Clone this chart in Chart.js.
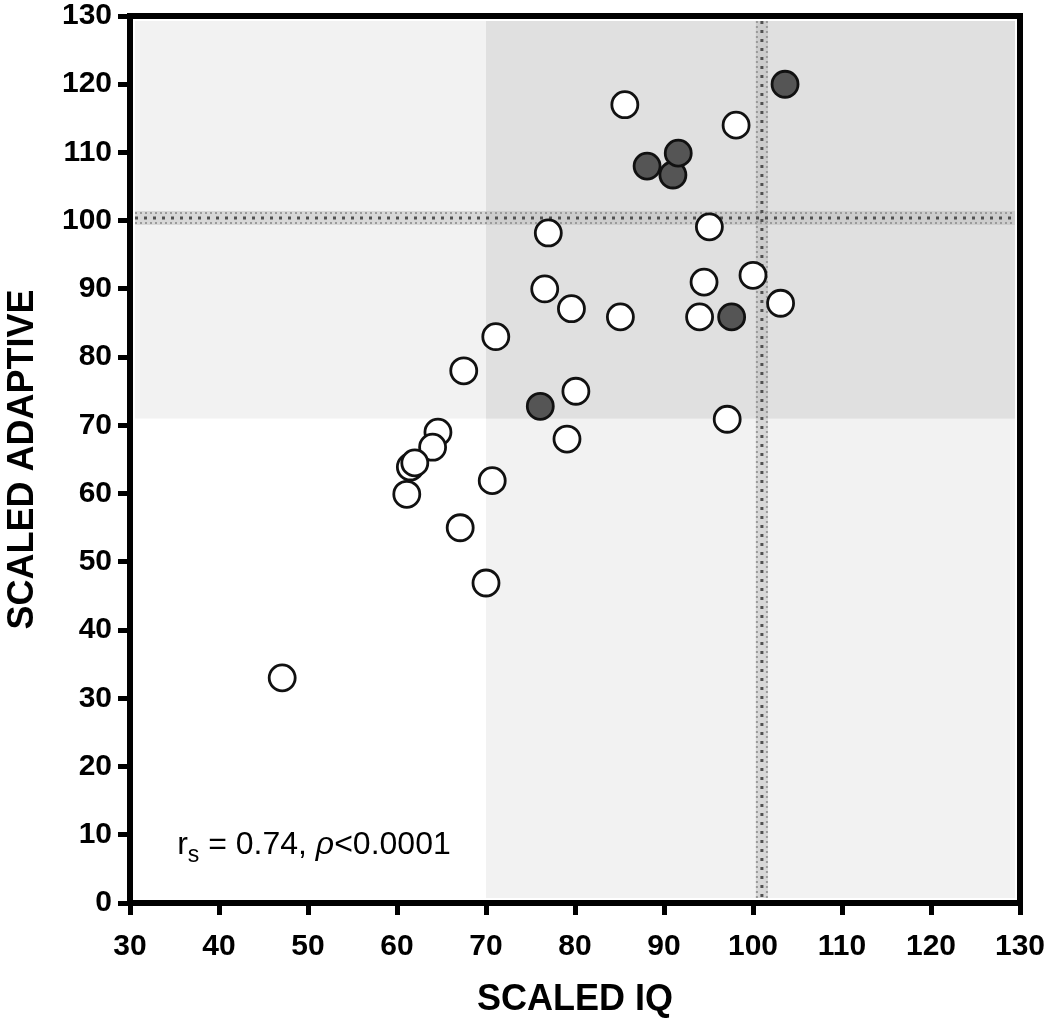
<!DOCTYPE html>
<html>
<head>
<meta charset="utf-8">
<script src="https://cdn.jsdelivr.net/npm/chart.js@4.4.1/dist/chart.umd.min.js"></script>
<style>
  html, body { margin: 0; padding: 0; background: #fff; }
  #wrap { width: 1050px; height: 1018px; }
</style>
</head>
<body>
<div id="wrap"><canvas id="chart" width="1050" height="1018"></canvas></div>
<script>
// scaled IQ / scaled adaptive
const openIQ = [85.6, 98.1, 77.0, 95.1, 76.6, 79.6, 85.1, 94.5, 94.0, 100.0, 103.1, 71.1, 67.5, 80.1, 79.1, 97.1, 64.6, 64.0, 61.5, 62.0, 61.1, 70.7, 67.1, 70.0, 47.1];
const openAdaptive = [117.0, 114.0, 98.2, 99.1, 90.0, 87.1, 85.9, 91.0, 85.9, 92.0, 87.9, 83.0, 78.0, 75.0, 68.0, 70.9, 69.0, 66.8, 63.9, 64.5, 59.9, 61.9, 55.0, 46.9, 33.0];
const filledIQ = [103.6, 88.1, 91.0, 91.6, 97.6, 76.1];
const filledAdaptive = [120.0, 108.0, 106.7, 109.9, 85.9, 72.8];

const xTicks = [30, 40, 50, 60, 70, 80, 90, 100, 110, 120, 130];
const yTicks = [0, 10, 20, 30, 40, 50, 60, 70, 80, 90, 100, 110, 120, 130];

// cut-offs for shaded quadrants and the dotted reference lines
const iqCut = 70;
const adaptiveCut = 71;
const iqRef = 101;
const adaptiveRef = 100.4;

function toPoints(xs, ys) {
    return xs.map((x, i) => ({ x: x, y: ys[i] }));
}

const shading = {
    id: 'shading',
    beforeDatasetsDraw(chart) {
        const { ctx, chartArea: a, scales: { x, y } } = chart;
        const inset = 5;
        const L = a.left + inset, R = a.right - inset, T = a.top + inset, B = a.bottom - inset;
        const cx = x.getPixelForValue(iqCut);
        const cy = y.getPixelForValue(adaptiveCut);
        ctx.save();
        ctx.fillStyle = '#f2f2f2';
        ctx.fillRect(L, T, R - L, B - T);
        ctx.fillStyle = '#ffffff';
        ctx.fillRect(L, cy, cx - L, B - cy);
        ctx.fillStyle = '#e0e0e0';
        ctx.fillRect(cx, T, R - cx, cy - T);

        // dotted reference bands
        const hy = y.getPixelForValue(adaptiveRef);
        const vx = x.getPixelForValue(iqRef);
        ctx.fillStyle = 'rgba(170,170,170,0.35)';
        ctx.fillRect(L, hy - 7, R - L, 14);
        ctx.fillRect(vx - 6, T, 12, B - T);

        ctx.strokeStyle = '#9a9a9a';
        ctx.lineWidth = 2;
        ctx.setLineDash([2, 3]);
        [-5, 5].forEach(d => {
            ctx.beginPath(); ctx.moveTo(L, hy + d); ctx.lineTo(R, hy + d); ctx.stroke();
            ctx.beginPath(); ctx.moveTo(vx + d, T); ctx.lineTo(vx + d, B); ctx.stroke();
        });
        ctx.strokeStyle = '#505050';
        ctx.lineWidth = 3;
        ctx.setLineDash([3, 6]);
        ctx.beginPath(); ctx.moveTo(L, hy); ctx.lineTo(R, hy); ctx.stroke();
        ctx.beginPath(); ctx.moveTo(vx, T); ctx.lineTo(vx, B); ctx.stroke();
        ctx.restore();
    }
};

const frame = {
    id: 'frame',
    afterDraw(chart) {
        const { ctx, chartArea: a, scales: { x, y } } = chart;
        ctx.save();
        ctx.strokeStyle = '#000';
        ctx.lineWidth = 6;
        ctx.strokeRect(a.left, a.top, a.right - a.left, a.bottom - a.top);

        // correlation note
        const tx = x.getPixelForValue(35.3);
        const ty = y.getPixelForValue(7.2);
        ctx.fillStyle = '#000';
        ctx.textBaseline = 'alphabetic';
        ctx.font = '32px "Liberation Sans", Arial, sans-serif';
        ctx.fillText('r', tx, ty);
        let cx = tx + ctx.measureText('r').width;
        ctx.font = '23px "Liberation Sans", Arial, sans-serif';
        ctx.fillText('s', cx, ty + 8);
        cx += ctx.measureText('s').width;
        ctx.font = '32px "Liberation Sans", Arial, sans-serif';
        const mid = ' = 0.74, ';
        ctx.fillText(mid, cx, ty);
        cx += ctx.measureText(mid).width;
        ctx.font = 'italic 32px "Liberation Sans", Arial, sans-serif';
        ctx.fillText('\u03C1', cx, ty);
        cx += ctx.measureText('\u03C1').width;
        ctx.font = '32px "Liberation Sans", Arial, sans-serif';
        ctx.fillText('<0.0001', cx, ty);
        ctx.restore();
    }
};

const tickFont = { family: '"Liberation Sans", Arial, sans-serif', size: 30, weight: 'bold' };
const titleFont = { family: '"Liberation Sans", Arial, sans-serif', size: 36, weight: 'bold' };

new Chart(document.getElementById('chart'), {
    type: 'scatter',
    data: {
        datasets: [
            {
                label: 'open',
                data: toPoints(openIQ, openAdaptive),
                backgroundColor: '#ffffff',
                borderColor: '#111111',
                borderWidth: 2.8,
                pointRadius: 13
            },
            {
                label: 'filled',
                data: toPoints(filledIQ, filledAdaptive),
                backgroundColor: '#555555',
                borderColor: '#111111',
                borderWidth: 2.8,
                pointRadius: 13
            }
        ]
    },
    options: {
        responsive: false,
        animation: false,
        devicePixelRatio: 1,
        layout: { padding: { top: 16, right: 30, left: 0, bottom: 0 } },
        plugins: {
            legend: { display: false },
            tooltip: { enabled: false }
        },
        scales: {
            x: {
                type: 'linear',
                min: xTicks[0],
                max: xTicks[xTicks.length - 1],
                afterBuildTicks: s => { s.ticks = xTicks.map(v => ({ value: v })); },
                afterFit: s => { s.height = 115; s.paddingLeft = 0; s.paddingRight = 0; },
                ticks: { color: '#000', font: tickFont, padding: 14 },
                grid: { drawOnChartArea: false, drawTicks: true, tickLength: 12, lineWidth: 5, color: '#000' },
                border: { display: true, width: 6, color: '#000' },
                title: { display: true, text: 'SCALED IQ', color: '#000', font: titleFont, padding: { top: 8, bottom: -4 } }
            },
            y: {
                type: 'linear',
                min: yTicks[0],
                max: yTicks[yTicks.length - 1],
                afterBuildTicks: s => { s.ticks = yTicks.map(v => ({ value: v })); },
                afterFit: s => { s.width = 130; s.paddingTop = 0; s.paddingBottom = 0; },
                ticks: { color: '#000', font: tickFont, padding: 6 },
                grid: { drawOnChartArea: false, drawTicks: true, tickLength: 12, lineWidth: 5, color: '#000' },
                border: { display: true, width: 6, color: '#000' },
                title: { display: true, text: 'SCALED ADAPTIVE', color: '#000', font: titleFont, padding: { top: 1, bottom: 4 } }
            }
        }
    },
    plugins: [shading, frame]
});
</script>
</body>
</html>
